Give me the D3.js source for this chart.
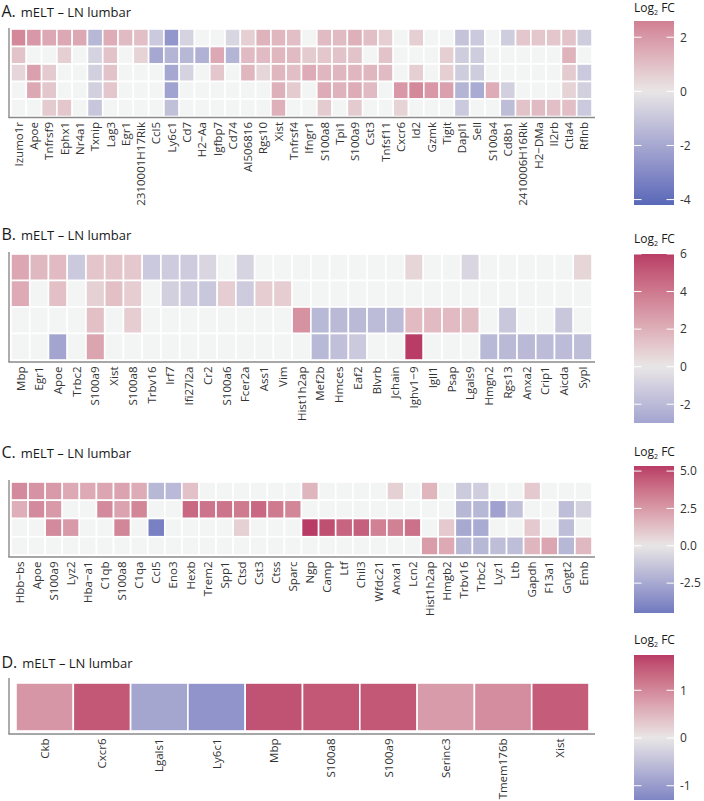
<!DOCTYPE html>
<html><head><meta charset="utf-8">
<script src="https://cdn.jsdelivr.net/npm/d3@7"></script>
<style>body{margin:0;background:#fff;} svg text{font-family:"Open Sans",sans-serif;}</style>
</head><body><svg id="c" width="704" height="801"></svg>
<script>
// ---------- DATA ----------
const genesA = ["Izumo1r","Apoe","Tnfrsf9","Ephx1","Nr4a1","Txnip","Lag3","Egr1","2310001H17Rik","Ccl5","Ly6c1","Cd7","H2\u2212Aa","Igfbp7","Cd74","AI506816","Rgs10","Xist","Tnfrsf4","Ifngr1","S100a8","Tpi1","S100a9","Cst3","Tnfsf11","Cxcr6","Id2","Gzmk","Tigit","Dapl1","Sell","S100a4","Cd8b1","2410006H16Rik","H2\u2212DMa","Il2rb","Ctla4","Rflnb"];
const n = null;
const valuesA = [
 [2.4,2.0,1.6,1.6,1.6,-1.5,1.5,1.1,1.0,-0.9,-2.6,-0.6,n,n,-0.5,0.6,1.3,1.2,1.0,n,1.1,1.1,1.4,1.0,0.6,n,0.6,n,n,-1.1,-0.9,n,-0.8,0.8,0.8,0.8,0.9,-0.8],
 [0.9,n,n,0.6,n,-0.6,0.9,n,0.5,-2.0,-1.6,-1.5,-1.7,1.6,-1.6,1.1,1.1,1.2,1.1,0.7,0.8,0.9,0.9,n,0.9,n,n,n,0.6,-0.8,-0.8,n,n,n,n,n,1.3,n],
 [0.4,1.8,0.7,n,n,-0.7,0.9,n,n,n,-2.0,-0.6,n,0.8,n,1.2,0.4,1.2,1.0,1.5,1.2,1.2,1.2,1.2,1.1,n,0.6,n,0.6,-0.8,-0.8,n,n,n,n,n,0.7,-0.9],
 [n,1.6,0.8,n,n,-0.7,0.8,n,n,n,-2.2,n,n,n,n,n,n,1.4,0.7,n,1.5,1.3,1.5,1.1,n,2.0,2.4,2.0,1.8,-1.6,-1.9,1.5,-0.7,n,n,n,0.5,-0.7],
 [n,n,0.7,0.8,n,-1.0,n,n,n,n,-1.2,n,n,n,n,n,n,1.4,n,n,0.7,n,0.7,n,n,0.5,n,n,n,-0.9,n,n,-1.3,0.9,1.1,1.0,1.0,-0.9]
];
const limitsA = [-4.2, 2.6];
const ticksA = [2, 0, -2, -4];

const genesB = ["Mbp","Egr1","Apoe","Trbc2","S100a9","Xist","S100a8","Trbv16","Irf7","Ifi27l2a","Cr2","S100a6","Fcer2a","Ass1","Vim","Hist1h2ap","Mef2b","Hmces","Eaf2","Blvrb","Jchain","Ighv1\u22129","Igll1","Psap","Lgals9","Hmgn2","Rgs13","Anxa2","Crip1","Aicda","Sypl"];
const valuesB = [
 [2.3,1.7,1.6,-1.3,1.2,1.2,1.1,-1.3,-1.2,-1.2,-0.7,n,-0.8,n,n,n,n,n,n,n,n,0.6,n,n,-0.7,n,n,n,n,n,0.6],
 [2.2,n,1.4,n,0.8,1.4,0.9,n,-1.0,-1.2,-1.4,0.9,-1.2,0.9,0.9,n,n,n,n,n,n,n,n,n,n,n,n,n,n,n,n],
 [n,n,n,n,1.4,n,0.9,n,n,n,n,n,n,n,n,3.1,-2.1,-2.0,-2.0,-1.9,-1.9,1.6,1.6,1.6,1.5,n,-1.4,n,n,-1.4,n],
 [n,n,-3.0,n,2.4,n,n,n,n,n,n,n,n,n,n,n,-2.1,-1.7,-1.3,n,n,6.0,n,n,n,-2.1,-2.0,-2.0,-1.9,-1.9,-1.8]
];
const limitsB = [-3.0, 6.0];
const ticksB = [6, 4, 2, 0, -2];

const genesC = ["Hbb\u2212bs","Apoe","S100a9","Lyz2","Hba\u2212a1","C1qb","S100a8","C1qa","Ccl5","Eno3","Hexb","Trem2","Spp1","Ctsd","Cst3","Ctss","Sparc","Ngp","Camp","Ltf","Chil3","Wfdc21","Anxa1","Lcn2","Hist1h2ap","Hmgb2","Trbv16","Trbc2","Lyz1","Ltb","Gapdh","F13a1","Gngt2","Emb"];
const valuesC = [
 [3.0,2.7,2.5,2.0,2.0,2.1,2.2,1.9,-1.9,-1.8,1.2,n,n,n,n,n,n,1.6,n,n,n,n,0.7,n,1.6,n,-1.1,-1.0,n,n,0.9,n,n,n],
 [1.8,3.0,2.5,n,n,3.0,2.2,3.1,n,n,4.1,3.7,3.7,3.5,4.1,3.5,3.1,n,n,n,n,n,n,n,n,n,-1.9,-1.9,-2.8,-1.5,n,n,-1.6,-0.8],
 [n,n,3.0,2.5,n,n,3.1,n,-4.2,n,n,n,n,0.7,n,n,n,5.34,4.8,4.2,4.3,3.3,3.3,3.8,n,0.9,-2.5,-2.4,n,n,0.9,n,-1.6,n],
 [n,n,n,n,n,n,n,n,n,n,n,n,n,n,n,n,n,n,n,n,n,n,n,n,2.4,2.0,-1.9,-1.9,-1.6,-1.6,1.6,2.1,-1.9,1.5]
];
const limitsC = [-4.5, 5.34];
const ticksC = [5.0, 2.5, 0.0, -2.5];

const genesD = ["Ckb","Cxcr6","Lgals1","Ly6c1","Mbp","S100a8","S100a9","Serinc3","Tmem176b","Xist"];
const valuesD = [
 [0.85,1.5,-0.85,-1.1,1.55,1.5,1.5,0.8,0.95,1.45]
];
const limitsD = [-1.3, 1.74];
const ticksD = [1, 0, -1];

// ---------- STYLE / LAYOUT ----------
const LOW = "#5868b8", MID = "#e9e6e6", HIGH = "#b93c66", NAFILL = "#f3f5f5";
const svg = d3.select("#c");
const defs = svg.append("defs");
const fmtInt = d => d < 0 ? "-" + Math.abs(d) : String(d);
const fmtOne = d => d < 0 ? "-" + Math.abs(d).toFixed(1) : d.toFixed(1);

const panels = [
 {id:"A", letter:"A.", genes:genesA, values:valuesA, limits:limitsA, ticks:ticksA, fmt:fmtInt,
  titleY:16.7, area:[28,117.5], cellX:[11,592], cellY:[29,116.5], legTitleY:12, leg:[21,205]},
 {id:"B", letter:"B.", genes:genesB, values:valuesB, limits:limitsB, ticks:ticksB, fmt:fmtInt,
  titleY:240, area:[252,362], cellX:[11,592], cellY:[254,360], legTitleY:243, leg:[254,423]},
 {id:"C", letter:"C.", genes:genesC, values:valuesC, limits:limitsC, ticks:ticksC, fmt:fmtOne,
  titleY:458, area:[480,557], cellX:[11,592], cellY:[482,555], legTitleY:456, leg:[466,613]},
 {id:"D", letter:"D.", genes:genesD, values:valuesD, limits:limitsD, ticks:ticksD, fmt:fmtInt,
  titleY:668, area:[678,734], cellX:[16,589], cellY:[683,731], legTitleY:644, leg:[655,800]}
];

panels.forEach(p => {
  const m = Math.max(Math.abs(p.limits[0]), Math.abs(p.limits[1]));
  const color = d3.scaleLinear().domain([-m, 0, m]).range([LOW, MID, HIGH]).interpolate(d3.interpolateLab).clamp(true);
  const x = d3.scaleBand().domain(p.genes).range(p.cellX);
  const rows = d3.range(p.values.length);
  const y = d3.scaleBand().domain(rows).range(p.cellY);

  // title
  const t = svg.append("text").attr("x", 1.5).attr("y", p.titleY).attr("fill", "#1a1a1a");
  t.append("tspan").attr("font-size", "16px").text(p.letter);
  t.append("tspan").attr("font-size", "13px").attr("dx", 5).text("mELT \u2013 LN lumbar");

  // cells
  const cells = [];
  p.values.forEach((row, ri) => row.forEach((v, ci) => cells.push({r: ri, g: p.genes[ci], v})));
  svg.append("g").selectAll("rect").data(cells).join("rect")
    .attr("x", d => x(d.g)).attr("y", d => y(d.r))
    .attr("width", x.bandwidth()).attr("height", y.bandwidth())
    .attr("fill", d => d.v === null ? NAFILL : color(d.v))
    .attr("stroke", "#fff").attr("stroke-width", 1.6);

  // axis lines
  svg.append("line").attr("x1", 9).attr("x2", 9).attr("y1", p.area[0]).attr("y2", p.area[1])
    .attr("stroke", "#8a8a8a").attr("stroke-width", 1.4);
  svg.append("line").attr("x1", 8.3).attr("x2", 595).attr("y1", p.area[1]).attr("y2", p.area[1])
    .attr("stroke", "#8a8a8a").attr("stroke-width", 1.4);

  // x labels
  const ax = svg.append("g").attr("transform", `translate(0,${p.area[1]})`)
    .call(d3.axisBottom(x).tickSize(0).tickSizeOuter(0));
  ax.select(".domain").remove();
  ax.selectAll("text")
    .attr("transform", "rotate(-90)").attr("x", -4.5).attr("y", 0).attr("dy", "0.36em")
    .style("text-anchor", "end").attr("font-size", "11.5px").attr("fill", "#333")
    .style("font-family", '"Open Sans",sans-serif');

  // legend
  const ly = d3.scaleLinear().domain(p.limits).range([p.leg[1], p.leg[0]]);
  const gid = "grad" + p.id;
  const grad = defs.append("linearGradient").attr("id", gid).attr("x1", 0).attr("y1", 1).attr("x2", 0).attr("y2", 0);
  d3.range(0, 41).forEach(i => {
    const v = p.limits[0] + (p.limits[1] - p.limits[0]) * i / 40;
    grad.append("stop").attr("offset", (i / 40)).attr("stop-color", color(v));
  });
  svg.append("rect").attr("x", 634).attr("y", p.leg[0]).attr("width", 40).attr("height", p.leg[1] - p.leg[0])
    .attr("fill", `url(#${gid})`);
  const lt = svg.append("text").attr("x", 634).attr("y", p.legTitleY).attr("font-size", "12px").attr("fill", "#1a1a1a");
  lt.append("tspan").text("Log");
  lt.append("tspan").attr("font-size", "7px").attr("dy", 3).text("2");
  lt.append("tspan").attr("dy", -3).text(" FC");
  svg.append("g").selectAll("line.tl").data(p.ticks).join("line")
    .attr("x1", 634).attr("x2", 641.5).attr("y1", d => ly(d)).attr("y2", d => ly(d))
    .attr("stroke", "#fff").attr("stroke-width", 1);
  svg.append("g").selectAll("line.tr").data(p.ticks).join("line")
    .attr("x1", 666.5).attr("x2", 674).attr("y1", d => ly(d)).attr("y2", d => ly(d))
    .attr("stroke", "#fff").attr("stroke-width", 1);
  const la = svg.append("g").attr("transform", "translate(674,0)")
    .call(d3.axisRight(ly).tickValues(p.ticks).tickFormat(p.fmt).tickSize(0).tickPadding(6));
  la.select(".domain").remove();
  la.selectAll("text").attr("font-size", "12px").attr("fill", "#333").style("font-family", '"Open Sans",sans-serif');
});
</script></body></html>
